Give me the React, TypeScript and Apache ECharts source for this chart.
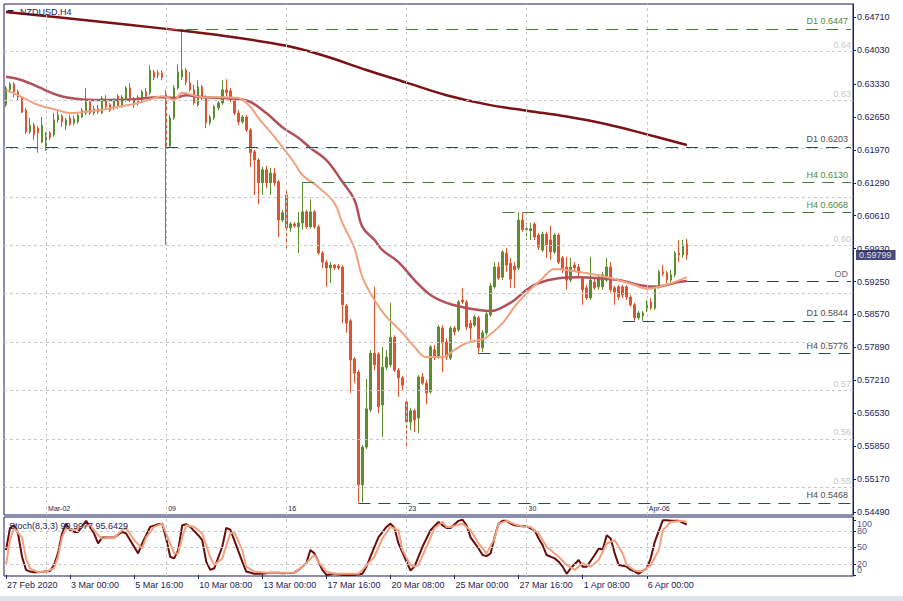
import React, { useEffect, useRef } from "react";
import * as echarts from "echarts";

const NAVY = "#1c1c5a";
const FONT = '"Liberation Sans", Arial, sans-serif';
const GREEN = "#5b8e2d";
const RED = "#e0532d";
const GRIDC = "#c8c8c8";

const N_CATS = 212;

// right price-axis labels
const priceTicks = [0.6471, 0.6403, 0.6333, 0.6265, 0.6197, 0.6129, 0.6061, 0.5993, 0.5925, 0.5857, 0.5789, 0.5721, 0.5653, 0.5585, 0.5517, 0.5449];
// round-number grid levels drawn inside the chart
const roundLevels = [0.55, 0.56, 0.57, 0.58, 0.59, 0.6, 0.61, 0.62, 0.63, 0.64];
// round levels whose label is visible (others are covered by level labels)
const roundLabelled = [0.55, 0.56, 0.57, 0.6, 0.63, 0.64];
// week separators (candle index) and their labels
const weekIdx = [10, 40, 70, 100, 130, 160];
const weekLabels = ["Mar-02", "09", "16", "23", "30", "Apr-06"];
// bottom time labels, one every 16 candles
const timeLabels = ["27 Feb 2020", "3 Mar 00:00", "5 Mar 16:00", "10 Mar 08:00", "13 Mar 00:00", "17 Mar 16:00", "20 Mar 08:00", "25 Mar 00:00", "27 Mar 16:00", "1 Apr 08:00", "6 Apr 00:00"];
const lastPrice = 0.59799;
const stochTitle = "Stoch(8,3,3) 90.9977 95.6429";

// [open, close, low, high]
const candles = [
  [0.6290, 0.6325, 0.6286, 0.6329], [0.6321, 0.6333, 0.6315, 0.6337], [0.6333, 0.6317, 0.6306, 0.6337], [0.6317, 0.6306, 0.6300, 0.6321],
  [0.6304, 0.6275, 0.6273, 0.6308], [0.6279, 0.6234, 0.6230, 0.6284], [0.6234, 0.6248, 0.6230, 0.6263], [0.6248, 0.6228, 0.6217, 0.6253],
  [0.6242, 0.6232, 0.6191, 0.6246], [0.6213, 0.6248, 0.6211, 0.6265], [0.6197, 0.6232, 0.6195, 0.6234], [0.6232, 0.6222, 0.6217, 0.6236],
  [0.6228, 0.6259, 0.6224, 0.6273], [0.6259, 0.6269, 0.6253, 0.6279], [0.6267, 0.6255, 0.6244, 0.6271], [0.6248, 0.6259, 0.6238, 0.6263],
  [0.6263, 0.6250, 0.6246, 0.6269], [0.6253, 0.6261, 0.6248, 0.6267], [0.6255, 0.6269, 0.6251, 0.6273], [0.6265, 0.6279, 0.6263, 0.6284],
  [0.6273, 0.6296, 0.6269, 0.6325], [0.6296, 0.6273, 0.6269, 0.6300], [0.6273, 0.6282, 0.6269, 0.6288], [0.6282, 0.6275, 0.6271, 0.6290],
  [0.6273, 0.6304, 0.6271, 0.6308], [0.6302, 0.6286, 0.6282, 0.6310], [0.6290, 0.6279, 0.6275, 0.6294], [0.6284, 0.6300, 0.6279, 0.6304],
  [0.6308, 0.6286, 0.6282, 0.6312], [0.6286, 0.6306, 0.6284, 0.6310], [0.6300, 0.6325, 0.6296, 0.6329], [0.6325, 0.6300, 0.6296, 0.6335],
  [0.6290, 0.6302, 0.6284, 0.6306], [0.6306, 0.6294, 0.6288, 0.6310], [0.6300, 0.6317, 0.6296, 0.6321], [0.6317, 0.6308, 0.6304, 0.6325],
  [0.6315, 0.6362, 0.6310, 0.6372], [0.6358, 0.6347, 0.6341, 0.6362], [0.6356, 0.6352, 0.6345, 0.6362], [0.6356, 0.6347, 0.6341, 0.6362],
  [0.6315, 0.6203, 0.6001, 0.6321], [0.6205, 0.6263, 0.6201, 0.6269], [0.6263, 0.6325, 0.6259, 0.6331], [0.6325, 0.6358, 0.6321, 0.6374],
  [0.6347, 0.6362, 0.6341, 0.6447], [0.6362, 0.6337, 0.6331, 0.6366], [0.6335, 0.6321, 0.6317, 0.6358], [0.6321, 0.6294, 0.6290, 0.6331],
  [0.6290, 0.6327, 0.6286, 0.6341], [0.6327, 0.6306, 0.6300, 0.6331], [0.6306, 0.6253, 0.6242, 0.6310], [0.6253, 0.6265, 0.6248, 0.6269],
  [0.6263, 0.6286, 0.6259, 0.6290], [0.6284, 0.6294, 0.6279, 0.6298], [0.6294, 0.6321, 0.6290, 0.6341], [0.6321, 0.6315, 0.6308, 0.6343],
  [0.6319, 0.6300, 0.6296, 0.6325], [0.6300, 0.6273, 0.6269, 0.6304], [0.6273, 0.6255, 0.6248, 0.6279], [0.6255, 0.6265, 0.6251, 0.6269],
  [0.6265, 0.6238, 0.6234, 0.6269], [0.6238, 0.6191, 0.6162, 0.6242], [0.6193, 0.6176, 0.6104, 0.6197], [0.6176, 0.6129, 0.6085, 0.6180],
  [0.6129, 0.6156, 0.6104, 0.6162], [0.6156, 0.6129, 0.6118, 0.6164], [0.6129, 0.6149, 0.6104, 0.6160], [0.6149, 0.6129, 0.6122, 0.6160],
  [0.6131, 0.6052, 0.6017, 0.6135], [0.6052, 0.6067, 0.6048, 0.6073], [0.6104, 0.6036, 0.5990, 0.6114], [0.6036, 0.6044, 0.6028, 0.6048],
  [0.6044, 0.6040, 0.6036, 0.6048], [0.6038, 0.6046, 0.5984, 0.6069], [0.6046, 0.6069, 0.6032, 0.6130], [0.6069, 0.6038, 0.6034, 0.6073],
  [0.6038, 0.6069, 0.6034, 0.6095], [0.6069, 0.6038, 0.6034, 0.6073], [0.6038, 0.5984, 0.5980, 0.6042], [0.5984, 0.5965, 0.5953, 0.5988],
  [0.5965, 0.5953, 0.5914, 0.5970], [0.5953, 0.5959, 0.5922, 0.5965], [0.5959, 0.5953, 0.5949, 0.5961], [0.5957, 0.5953, 0.5949, 0.5961],
  [0.5955, 0.5877, 0.5839, 0.5959], [0.5875, 0.5839, 0.5819, 0.5879], [0.5844, 0.5763, 0.5695, 0.5848], [0.5765, 0.5736, 0.5715, 0.5769],
  [0.5738, 0.5505, 0.5468, 0.5742], [0.5505, 0.5583, 0.5469, 0.5587], [0.5583, 0.5662, 0.5579, 0.5724], [0.5660, 0.5777, 0.5655, 0.5784],
  [0.5777, 0.5753, 0.5742, 0.5914], [0.5775, 0.5666, 0.5653, 0.5779], [0.5670, 0.5748, 0.5604, 0.5790], [0.5748, 0.5769, 0.5742, 0.5784],
  [0.5753, 0.5810, 0.5748, 0.5881], [0.5810, 0.5742, 0.5738, 0.5814], [0.5742, 0.5726, 0.5687, 0.5746], [0.5726, 0.5711, 0.5701, 0.5730],
  [0.5676, 0.5635, 0.5585, 0.5680], [0.5635, 0.5658, 0.5618, 0.5664], [0.5658, 0.5639, 0.5614, 0.5662], [0.5643, 0.5728, 0.5612, 0.5732],
  [0.5728, 0.5715, 0.5711, 0.5736], [0.5715, 0.5695, 0.5672, 0.5722], [0.5697, 0.5790, 0.5693, 0.5794], [0.5784, 0.5769, 0.5763, 0.5794],
  [0.5769, 0.5831, 0.5765, 0.5835], [0.5829, 0.5798, 0.5738, 0.5835], [0.5800, 0.5769, 0.5763, 0.5808], [0.5767, 0.5829, 0.5763, 0.5833],
  [0.5829, 0.5821, 0.5814, 0.5833], [0.5825, 0.5883, 0.5821, 0.5887], [0.5887, 0.5883, 0.5879, 0.5912], [0.5883, 0.5831, 0.5825, 0.5887],
  [0.5839, 0.5829, 0.5804, 0.5846], [0.5835, 0.5852, 0.5831, 0.5856], [0.5850, 0.5788, 0.5776, 0.5854], [0.5788, 0.5819, 0.5779, 0.5825],
  [0.5819, 0.5858, 0.5814, 0.5862], [0.5856, 0.5916, 0.5852, 0.5922], [0.5914, 0.5955, 0.5910, 0.5965], [0.5955, 0.5932, 0.5928, 0.5965],
  [0.5934, 0.5986, 0.5928, 0.5990], [0.5984, 0.5959, 0.5945, 0.5994], [0.5963, 0.5930, 0.5912, 0.5974], [0.5957, 0.5949, 0.5912, 0.5965],
  [0.5953, 0.6052, 0.5949, 0.6068], [0.6052, 0.6032, 0.6028, 0.6067], [0.6032, 0.6034, 0.6011, 0.6046], [0.6030, 0.6034, 0.6011, 0.6046],
  [0.6044, 0.6017, 0.6011, 0.6048], [0.6021, 0.5996, 0.5990, 0.6025], [0.5990, 0.6023, 0.5986, 0.6028], [0.6023, 0.6001, 0.5974, 0.6028],
  [0.6011, 0.5986, 0.5970, 0.6040], [0.5986, 0.6021, 0.5982, 0.6025], [0.6021, 0.5965, 0.5961, 0.6025], [0.5974, 0.5949, 0.5943, 0.5978],
  [0.5955, 0.5928, 0.5908, 0.5976], [0.5928, 0.5955, 0.5924, 0.5974], [0.5959, 0.5953, 0.5945, 0.5965], [0.5955, 0.5943, 0.5936, 0.5961],
  [0.5932, 0.5908, 0.5877, 0.5936], [0.5912, 0.5891, 0.5887, 0.5918], [0.5891, 0.5928, 0.5887, 0.5976], [0.5924, 0.5912, 0.5908, 0.5932],
  [0.5914, 0.5934, 0.5908, 0.5939], [0.5914, 0.5939, 0.5908, 0.5945], [0.5928, 0.5955, 0.5924, 0.5974], [0.5955, 0.5908, 0.5903, 0.5965],
  [0.5912, 0.5903, 0.5877, 0.5916], [0.5914, 0.5893, 0.5887, 0.5918], [0.5914, 0.5897, 0.5891, 0.5918], [0.5914, 0.5893, 0.5887, 0.5918],
  [0.5893, 0.5877, 0.5873, 0.5897], [0.5877, 0.5850, 0.5844, 0.5881], [0.5850, 0.5860, 0.5846, 0.5864], [0.5854, 0.5860, 0.5844, 0.5864],
  [0.5866, 0.5883, 0.5862, 0.5887], [0.5883, 0.5870, 0.5866, 0.5891], [0.5870, 0.5914, 0.5866, 0.5918], [0.5914, 0.5945, 0.5910, 0.5949],
  [0.5945, 0.5941, 0.5936, 0.5959], [0.5943, 0.5928, 0.5922, 0.5947], [0.5928, 0.5939, 0.5924, 0.5949], [0.5939, 0.5984, 0.5934, 0.5988],
  [0.5984, 0.5980, 0.5965, 0.6011], [0.5980, 0.6001, 0.5974, 0.6011], [0.6003, 0.5980, 0.5970, 0.6013],
];

// moving averages, read at points: [candle index, price]
const maLong = [[0, 0.6482], [20, 0.6465], [40, 0.6447], [55, 0.6432], [70, 0.6412], [80, 0.6390], [90, 0.6362], [100, 0.6336], [110, 0.6310], [120, 0.6291], [130, 0.6278], [140, 0.6266], [150, 0.6250], [160, 0.6229], [170, 0.6207]];
const maMid = [[0, 0.6348], [4, 0.6341], [8, 0.6327], [13, 0.6310], [18, 0.6302], [23, 0.6300], [28, 0.6300], [33, 0.6302], [38, 0.6306], [42, 0.6304], [45, 0.6310], [49, 0.6306], [54, 0.6304], [58, 0.6302], [61, 0.6296], [65, 0.6273], [69, 0.6244], [73, 0.6222], [76, 0.6201], [80, 0.6176], [84, 0.6131], [87, 0.6094], [89, 0.6038], [92, 0.6011], [94, 0.5990], [98, 0.5965], [102, 0.5928], [106, 0.5897], [110, 0.5881], [114, 0.5872], [118, 0.5866], [121, 0.5864], [124, 0.5872], [127, 0.5887], [130, 0.5908], [133, 0.5922], [138, 0.5932], [143, 0.5934], [148, 0.5932], [153, 0.5928], [158, 0.5918], [162, 0.5914], [165, 0.5918], [168, 0.5924], [170, 0.5926]];
const maShort = [[0, 0.6321], [4, 0.6306], [8, 0.6290], [13, 0.6279], [16, 0.6273], [19, 0.6275], [23, 0.6279], [28, 0.6286], [33, 0.6294], [37, 0.6304], [39, 0.6308], [42, 0.6300], [44, 0.6315], [49, 0.6306], [54, 0.6306], [58, 0.6304], [61, 0.6286], [63, 0.6263], [66, 0.6234], [69, 0.6203], [72, 0.6170], [74, 0.6145], [78, 0.6120], [82, 0.6087], [84, 0.6046], [87, 0.5994], [89, 0.5934], [92, 0.5887], [95, 0.5852], [99, 0.5819], [102, 0.5790], [105, 0.5769], [109, 0.5769], [112, 0.5784], [115, 0.5798], [118, 0.5804], [120, 0.5810], [124, 0.5839], [127, 0.5873], [130, 0.5901], [134, 0.5932], [137, 0.5951], [140, 0.5949], [143, 0.5945], [148, 0.5938], [153, 0.5928], [157, 0.5918], [160, 0.5910], [163, 0.5914], [167, 0.5924], [170, 0.5934]];

// stochastic, read at points: [candle index, value]
const stochMain = [[0, 45], [1, 85], [2, 90], [3, 75], [4, 33], [5, 9], [6, 6], [7, 5], [8, 5], [11, 7], [12, 18], [13, 40], [14, 75], [15, 93], [16, 81], [17, 78], [18, 78], [20, 98], [21, 87], [22, 75], [23, 57], [24, 68], [25, 68], [27, 68], [29, 78], [30, 75], [31, 63], [33, 39], [34, 57], [36, 87], [38, 92], [39, 93], [40, 66], [41, 33], [42, 30], [43, 45], [44, 90], [45, 92], [46, 87], [48, 72], [49, 63], [50, 24], [51, 9], [52, 12], [54, 51], [55, 85], [56, 82], [57, 63], [59, 24], [60, 6], [62, 2], [64, 2], [66, 4], [68, 4], [69, 3], [72, 4], [73, 9], [75, 21], [76, 45], [77, 39], [79, 9], [80, 0], [82, 2], [84, 0], [87, 0], [89, 2], [90, 15], [92, 51], [93, 68], [95, 87], [96, 93], [97, 85], [98, 57], [100, 24], [101, 8], [102, 15], [104, 51], [106, 81], [108, 96], [109, 90], [110, 85], [111, 85], [113, 98], [114, 100], [115, 90], [116, 68], [118, 48], [119, 36], [120, 34], [121, 39], [122, 68], [123, 93], [124, 98], [125, 98], [126, 93], [127, 90], [129, 88], [130, 88], [132, 81], [133, 66], [134, 54], [135, 36], [137, 30], [138, 24], [139, 15], [140, 2], [141, 12], [143, 27], [144, 15], [145, 15], [147, 36], [148, 48], [149, 46], [150, 72], [151, 66], [152, 39], [153, 18], [155, 15], [156, 9], [157, 6], [158, 2], [160, 12], [161, 30], [162, 60], [164, 99], [165, 99], [166, 98], [168, 98], [170, 91]];
const stochSignal = [[0, 18], [1, 63], [2, 85], [4, 68], [5, 30], [6, 12], [8, 5], [10, 6], [12, 12], [13, 33], [14, 68], [15, 85], [17, 81], [19, 87], [21, 90], [23, 72], [24, 66], [27, 68], [29, 81], [30, 85], [32, 63], [34, 48], [35, 68], [37, 87], [39, 93], [40, 75], [42, 39], [43, 39], [44, 68], [45, 90], [47, 87], [49, 75], [51, 32], [52, 18], [54, 30], [56, 75], [57, 78], [59, 45], [60, 15], [62, 6], [65, 4], [72, 4], [74, 15], [77, 36], [78, 24], [80, 6], [82, 2], [88, 2], [89, 9], [92, 33], [94, 66], [96, 87], [98, 81], [99, 45], [101, 18], [102, 15], [103, 18], [105, 51], [107, 85], [109, 96], [110, 87], [111, 87], [114, 93], [116, 81], [118, 57], [120, 39], [122, 66], [123, 93], [125, 98], [127, 92], [129, 88], [131, 87], [133, 75], [135, 51], [138, 33], [140, 18], [142, 9], [144, 21], [146, 15], [148, 27], [150, 57], [152, 63], [154, 39], [155, 18], [157, 8], [159, 6], [161, 18], [163, 45], [164, 81], [166, 96], [169, 98], [170, 96]];
const stochLevels = [20, 50, 80];
const stochTicks = [0, 20, 50, 80, 100];

// support / resistance levels: label, price, first candle index, kind
const levelNames = ["D1 0.6447", "D1 0.6203", "H4 0.6130", "H4 0.6068", "OD", "D1 0.5844", "H4 0.5776", "H4 0.5468"];
const levelValues = [0.6447, 0.6203, 0.6130, 0.6068, 0.5925, 0.5844, 0.5776, 0.5468];
const levelStart = [40, 0, 74, 124, 170, 154, 118, 88];
const levelKind = ["green", "dark", "green", "green", "od", "dark", "dark", "dark"];

const kindStyle: Record<string, { line: string; text: string }> = {
  green: { line: "#3f7f2c", text: "#4e8a3c" },
  dark: { line: "#2f4a4a", text: "#4d4d4d" },
  od: { line: "#3a3a5a", text: "#6b6b8a" },
};

export default function App() {
  const ref = useRef<HTMLDivElement>(null);

  useEffect(() => {
    if (!ref.current) return;
    const chart = echarts.init(ref.current, null, { renderer: "svg" });
    const cats = Array.from({ length: N_CATS }, (_, i) => String(i));
    const lastCat = N_CATS - 1;
    const gridLine = { color: GRIDC, type: [3, 3] as number[], width: 1 };

    const mainGridMarks: any[] = [
      ...weekIdx.map((i) => ({ xAxis: i, lineStyle: gridLine, label: { show: false } })),
      ...roundLevels.map((v) => ({
        yAxis: v,
        lineStyle: gridLine,
        label: {
          show: roundLabelled.indexOf(v) >= 0,
          position: "insideEndTop",
          formatter: v.toFixed(2),
          color: GRIDC,
          fontSize: 9,
          fontFamily: FONT,
          distance: 2,
        },
      })),
    ];

    const levelMarks: any[] = levelValues.map((v, k) => {
      const st = kindStyle[levelKind[k]];
      return [
        {
          coord: [levelStart[k], v],
          lineStyle: { color: st.line, type: [12, 8], width: 1 },
          label: { show: true, position: "insideEndTop", formatter: levelNames[k], color: st.text, fontSize: 9, fontFamily: FONT, distance: 3 },
        },
        { coord: [lastCat, v] },
      ];
    });

    const stochGridMarks: any[] = [
      ...weekIdx.map((i) => ({ xAxis: i, lineStyle: gridLine, label: { show: false } })),
      ...stochLevels.map((v) => ({ yAxis: v, lineStyle: gridLine, label: { show: false } })),
    ];

    const stochLabelData = stochTicks.map((v) => ({
      value: [lastCat, v],
      label: { offset: [0, v === 100 ? 4 : v === 0 ? -5 : 0] },
    }));

    const labelInterval16 = (i: number) => i % 16 === 0 && i / 16 < timeLabels.length;

    const option: any = {
      animation: false,
      backgroundColor: "#ffffff",
      textStyle: { fontFamily: FONT },
      title: [
        { text: "NZDUSD,H4", left: 20, top: 7, padding: 0, textStyle: { fontSize: 9, fontWeight: "normal", color: NAVY, fontFamily: FONT } },
        { text: stochTitle, left: 9, top: 521, padding: 0, textStyle: { fontSize: 9, fontWeight: "normal", color: NAVY, fontFamily: FONT } },
      ],
      graphic: [
        { type: "polygon", shape: { points: [[7, 10], [14, 10], [10.5, 14]] }, style: { fill: NAVY } },
        { type: "rect", shape: { x: 0, y: 596, width: 903, height: 5 }, style: { fill: "#dde4ec" } },
      ],
      grid: [
        { left: 4, top: 4, width: 849, height: 511, show: true, borderColor: NAVY, borderWidth: 1, backgroundColor: "#ffffff" },
        { left: 4, top: 517, width: 849, height: 59, show: true, borderColor: NAVY, borderWidth: 1, backgroundColor: "#ffffff" },
      ],
      xAxis: [
        {
          type: "category",
          gridIndex: 0,
          data: cats,
          boundaryGap: true,
          axisLine: { show: false },
          axisTick: { show: false },
          splitLine: { show: false },
          axisLabel: {
            inside: true,
            interval: (i: number) => i % 30 === 10,
            formatter: (_v: string, i: number) => {
              const k = weekIdx.indexOf(i);
              return k >= 0 ? weekLabels[k] : "";
            },
            fontSize: 7,
            color: NAVY,
            fontFamily: FONT,
            align: "left",
            margin: 3,
            padding: [0, 0, 0, 2],
          },
        },
        {
          type: "category",
          gridIndex: 1,
          data: cats,
          boundaryGap: true,
          axisLine: { show: false },
          axisTick: { show: true, alignWithLabel: true, interval: labelInterval16, length: 4, lineStyle: { color: NAVY } },
          splitLine: { show: false },
          axisLabel: {
            interval: labelInterval16,
            formatter: (_v: string, i: number) => (i % 16 === 0 ? timeLabels[i / 16] || "" : ""),
            fontSize: 9,
            color: NAVY,
            fontFamily: FONT,
            align: "left",
            margin: 4,
            padding: [0, 0, 0, 1],
          },
        },
      ],
      yAxis: [
        {
          type: "value",
          gridIndex: 0,
          position: "right",
          min: 0.54427,
          max: 0.64984,
          axisLine: { show: true, lineStyle: { color: NAVY } },
          axisTick: { show: true, length: 3, customValues: priceTicks, lineStyle: { color: NAVY } },
          axisLabel: { customValues: priceTicks, hideOverlap: false, formatter: (v: number) => v.toFixed(5), fontSize: 9, color: NAVY, fontFamily: FONT, margin: 4 },
          splitLine: { show: false },
        },
        {
          type: "value",
          gridIndex: 1,
          position: "right",
          min: -2,
          max: 105,
          axisLine: { show: true, lineStyle: { color: NAVY } },
          axisTick: { show: true, length: 3, customValues: stochTicks, lineStyle: { color: NAVY } },
          axisLabel: { show: false },
          splitLine: { show: false },
        },
      ],
      series: [
        {
          name: "grid-main",
          type: "line",
          xAxisIndex: 0,
          yAxisIndex: 0,
          data: [],
          silent: true,
          z: 1,
          markLine: { silent: true, symbol: ["none", "none"], animation: false, data: mainGridMarks },
        },
        {
          name: "NZDUSD",
          type: "candlestick",
          xAxisIndex: 0,
          yAxisIndex: 0,
          data: candles,
          barWidth: 2,
          z: 3,
          itemStyle: { color: GREEN, color0: RED, borderColor: GREEN, borderColor0: RED, borderWidth: 1 },
          markLine: { silent: true, symbol: ["none", "none"], animation: false, data: levelMarks },
        },
        { name: "MA long", type: "line", xAxisIndex: 0, yAxisIndex: 0, data: maLong, smooth: 0.4, showSymbol: false, z: 4, lineStyle: { color: "#7b1113", width: 2.5 } },
        { name: "MA mid", type: "line", xAxisIndex: 0, yAxisIndex: 0, data: maMid, smooth: 0.4, showSymbol: false, z: 4, lineStyle: { color: "#b4505a", width: 2.5 } },
        { name: "MA short", type: "line", xAxisIndex: 0, yAxisIndex: 0, data: maShort, smooth: 0.4, showSymbol: false, z: 4, lineStyle: { color: "#f2a17f", width: 2 } },
        {
          name: "last-price",
          type: "scatter",
          xAxisIndex: 0,
          yAxisIndex: 0,
          data: [[lastCat, lastPrice]],
          symbolSize: 0,
          silent: true,
          clip: false,
          z: 10,
          label: {
            show: true,
            position: "right",
            distance: 5,
            formatter: lastPrice.toFixed(5),
            color: "#ffffff",
            backgroundColor: NAVY,
            padding: [1, 4, 0, 3],
            fontSize: 9,
            fontFamily: FONT,
          },
        },
        {
          name: "grid-stoch",
          type: "line",
          xAxisIndex: 1,
          yAxisIndex: 1,
          data: [],
          silent: true,
          z: 1,
          markLine: { silent: true, symbol: ["none", "none"], animation: false, data: stochGridMarks },
        },
        { name: "Stoch main", type: "line", xAxisIndex: 1, yAxisIndex: 1, data: stochMain, showSymbol: false, z: 3, lineStyle: { color: "#6b0c0c", width: 2 } },
        { name: "Stoch signal", type: "line", xAxisIndex: 1, yAxisIndex: 1, data: stochSignal, showSymbol: false, z: 4, lineStyle: { color: "#f4a07e", width: 2 } },
        {
          name: "stoch-labels",
          type: "scatter",
          xAxisIndex: 1,
          yAxisIndex: 1,
          data: stochLabelData,
          symbolSize: 0,
          silent: true,
          clip: false,
          z: 10,
          label: {
            show: true,
            position: "right",
            distance: 6,
            formatter: (p: any) => String(p.value[1]),
            color: NAVY,
            fontSize: 9,
            fontFamily: FONT,
          },
        },
      ],
    };

    chart.setOption(option);
    return () => chart.dispose();
  }, []);

  return (
    <div
      ref={ref}
      style={{ position: "fixed", left: 0, top: 0, width: 903, height: 601, background: "#ffffff" }}
    />
  );
}
